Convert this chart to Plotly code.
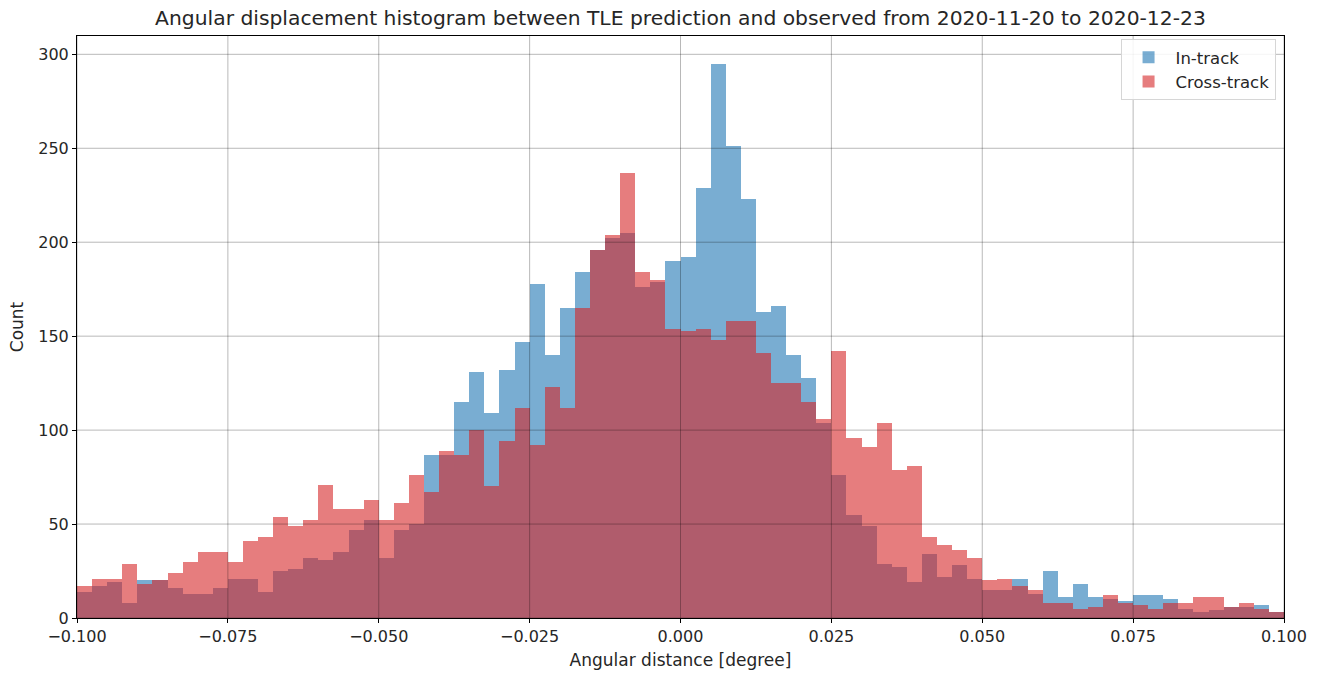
import numpy as np
import plotly.graph_objects as go

# Histogram binning (degrees)
BIN_START = -0.1
BIN_WIDTH = 0.0025

# Counts per bin, 80 bins from -0.1 to 0.1
in_track = [
    14, 17, 19, 8, 20, 20, 16, 13, 13, 16,
    21, 21, 14, 25, 26, 32, 31, 35, 47, 52,
    32, 47, 50, 87, 87, 115, 131, 109, 132, 147,
    178, 140, 165, 184, 196, 202, 205, 176, 179, 190,
    192, 229, 295, 251, 223, 163, 166, 140, 128, 104,
    76, 55, 49, 29, 27, 19, 34, 22, 28, 21,
    15, 15, 21, 13, 25, 11, 18, 11, 10, 9,
    12, 12, 10, 5, 3, 4, 6, 6, 7, 3,
]
cross_track = [
    17, 21, 21, 29, 18, 20, 24, 30, 35, 35,
    30, 41, 43, 54, 49, 52, 71, 58, 58, 63,
    52, 61, 76, 67, 89, 87, 100, 70, 94, 112,
    92, 123, 112, 165, 196, 204, 237, 184, 180, 154,
    153, 154, 148, 158, 158, 141, 125, 125, 115, 106,
    142, 96, 91, 104, 79, 81, 43, 39, 36, 32,
    20, 21, 17, 15, 8, 8, 5, 6, 12, 8,
    7, 5, 8, 8, 11, 11, 6, 8, 5, 3,
]

x_ticks = [-0.1, -0.075, -0.05, -0.025, 0.0, 0.025, 0.05, 0.075, 0.1]
x_tick_text = ["\u22120.100", "\u22120.075", "\u22120.050", "\u22120.025",
               "0.000", "0.025", "0.050", "0.075", "0.100"]
y_ticks = [0, 50, 100, 150, 200, 250, 300]

title = ("Angular displacement histogram between TLE prediction and observed "
         "from 2020-11-20 to 2020-12-23")

edges = BIN_START + BIN_WIDTH * np.arange(len(in_track))
centers = edges + BIN_WIDTH / 2

FONT = "DejaVu Sans"
TEXT = "#262626"

fig = go.Figure()
fig.add_trace(go.Bar(
    x=centers, y=in_track, width=BIN_WIDTH, name="In-track",
    marker=dict(color="rgba(31,119,180,0.6)", line=dict(width=0)),
))
fig.add_trace(go.Bar(
    x=centers, y=cross_track, width=BIN_WIDTH, name="Cross-track",
    marker=dict(color="rgba(214,39,40,0.6)", line=dict(width=0)),
))

y_top = max(max(in_track), max(cross_track)) * 1.05

# grid lines drawn over the bars
grid_color = "rgba(0,0,0,0.28)"
shapes = []
for xv in x_ticks:
    shapes.append(dict(type="line", xref="x", yref="paper", x0=xv, x1=xv, y0=0, y1=1,
                       line=dict(color=grid_color, width=1), layer="above"))
for yv in y_ticks:
    shapes.append(dict(type="line", xref="paper", yref="y", x0=0, x1=1, y0=yv, y1=yv,
                       line=dict(color=grid_color, width=1), layer="above"))

fig.update_layout(
    width=1320, height=676,
    margin=dict(l=77, r=36, t=36, b=58),
    paper_bgcolor="white", plot_bgcolor="white",
    barmode="overlay", bargap=0,
    font=dict(family=FONT, size=16, color=TEXT),
    title=dict(text=title, x=0.5155, xanchor="center", y=0.974, yanchor="middle",
               font=dict(family=FONT, size=20.3, color=TEXT)),
    shapes=shapes,
    showlegend=True,
    legend=dict(x=0.993, xanchor="right", y=0.995, yanchor="top",
                bgcolor="rgba(255,255,255,0.85)", bordercolor="#d6d6d6", borderwidth=1,
                font=dict(family=FONT, size=16.5, color=TEXT),
                tracegroupgap=0, itemwidth=44),
    xaxis=dict(
        range=[x_ticks[0], x_ticks[-1]],
        tickvals=x_ticks, ticktext=x_tick_text,
        showgrid=False, zeroline=False, automargin=False,
        showline=True, linecolor="black", linewidth=1, mirror=True,
        ticks="outside", ticklen=4, tickcolor="black", tickwidth=1,
        tickfont=dict(family=FONT, size=16, color=TEXT),
        title=dict(text="Angular distance [degree]", standoff=8,
                   font=dict(family=FONT, size=17, color=TEXT)),
    ),
    yaxis=dict(
        range=[0, y_top],
        tickvals=y_ticks,
        showgrid=False, zeroline=False, automargin=False,
        showline=True, linecolor="black", linewidth=1, mirror=True,
        ticks="outside", ticklen=4, tickcolor="black", tickwidth=1,
        tickfont=dict(family=FONT, size=16, color=TEXT),
        title=dict(text="Count", standoff=10,
                   font=dict(family=FONT, size=17, color=TEXT)),
    ),
)

fig.write_html("out.html")
